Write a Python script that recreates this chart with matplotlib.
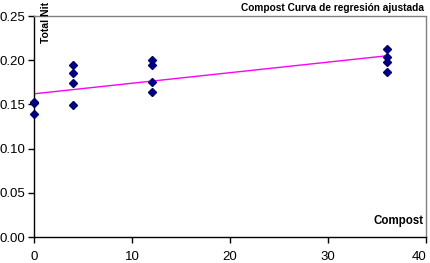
import matplotlib.pyplot as plt

# scatter data
compost = [0, 0, 0, 4, 4, 4, 4, 12, 12, 12, 12, 36, 36, 36, 36]
total_nit = [0.153, 0.152, 0.139,
             0.195, 0.185, 0.174, 0.149,
             0.200, 0.195, 0.175, 0.164,
             0.213, 0.204, 0.198, 0.187]

# fitted regression line end points
fit_x = [0, 36]
fit_y = [0.162, 0.205]

x_ticks = [0, 10, 20, 30, 40]
y_ticks = [0.00, 0.05, 0.10, 0.15, 0.20, 0.25]

plt.rcParams['font.family'] = ['Liberation Sans', 'DejaVu Sans']

fig = plt.figure(figsize=(4.30, 2.63), dpi=100)
ax = fig.add_axes([34 / 430, 26 / 263, 392 / 430, 221 / 263])

ax.plot(fit_x, fit_y, color='#ff00ff', lw=1, zorder=2)
ax.plot(compost, total_nit, linestyle='none', marker='D', markersize=4,
        color='#000080', zorder=3, clip_on=False)

ax.set_xlim(0, 40)
ax.set_ylim(0, 0.25)
ax.set_xticks(x_ticks)
ax.set_yticks(y_ticks)
ax.set_yticklabels([f"{v:.2f}" for v in y_ticks])
ax.tick_params(labelsize=9.5, length=4, width=1, color='black')
ax.tick_params(axis='x', pad=6)
ax.tick_params(axis='y', pad=2)
# keep the last x label inside the picture
ax.get_xticklabels()[-1].set_horizontalalignment('right')

for side in ('left', 'bottom'):
    ax.spines[side].set_color('black')
    ax.spines[side].set_linewidth(1)
for side in ('top', 'right'):
    ax.spines[side].set_color('#808080')
    ax.spines[side].set_linestyle((0, (1, 1)))
    ax.spines[side].set_linewidth(1)

ax.text(0.995, 1.015, "Compost Curva de regresión ajustada", transform=ax.transAxes,
        ha='right', va='bottom', fontsize=7.3, fontweight='bold')
ax.text(0.018, 1.063, "Total Nit", transform=ax.transAxes, rotation=90,
        ha='left', va='top', fontsize=7.5, fontweight='bold')
ax.text(0.995, 0.045, "Compost", transform=ax.transAxes,
        ha='right', va='bottom', fontsize=8.3, fontweight='bold')

fig.savefig("out.png", dpi=100)
plt.close(fig)
